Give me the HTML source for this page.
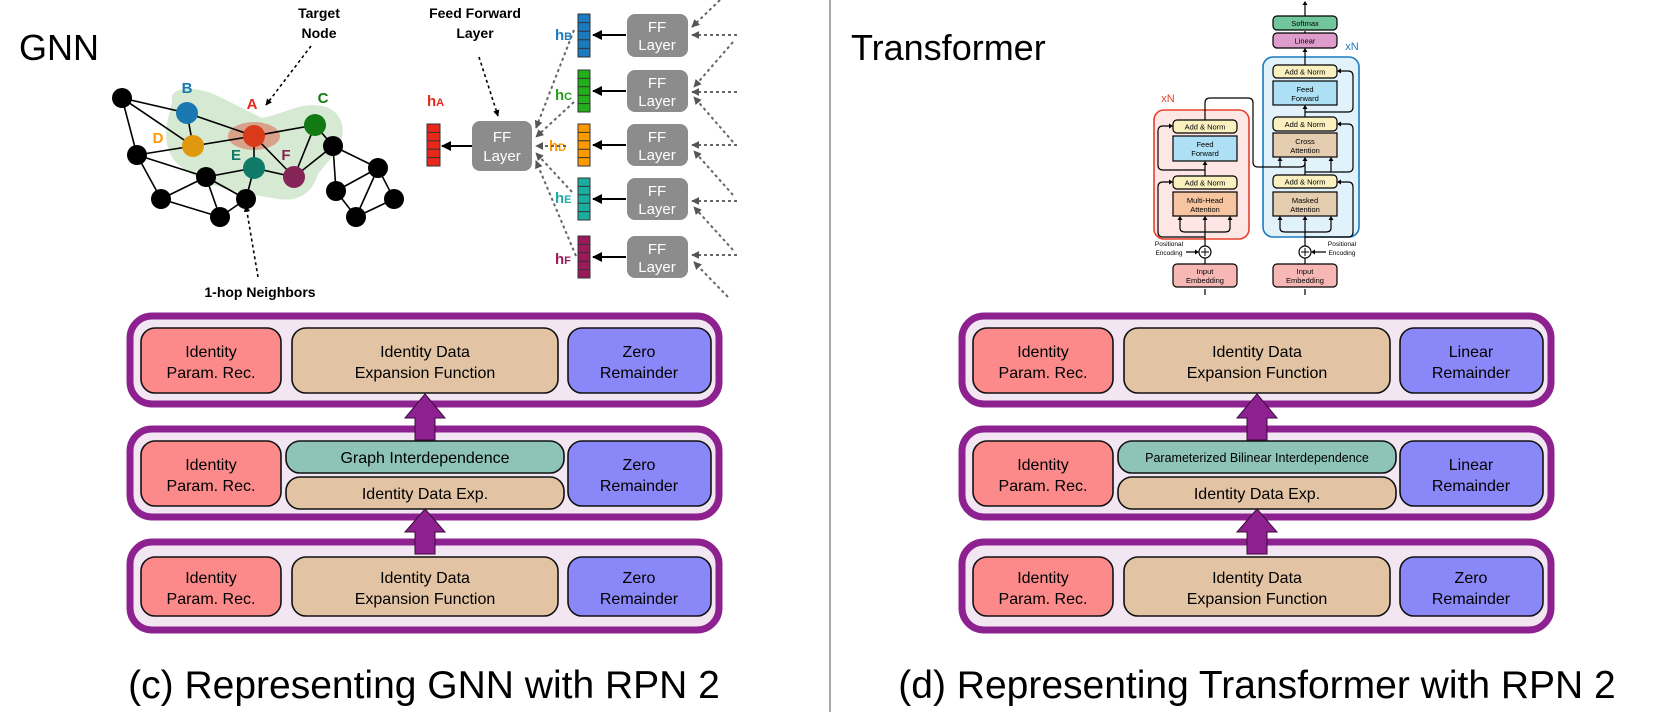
<!DOCTYPE html>
<html><head><meta charset="utf-8"><style>
html,body{margin:0;padding:0;background:#fff}
svg{display:block}
text{font-family:"Liberation Sans",Arial,sans-serif}
</style></head><body>
<svg width="1661" height="712" viewBox="0 0 1661 712" xmlns="http://www.w3.org/2000/svg">
<defs>
<marker id="ah" viewBox="0 0 10 10" refX="9" refY="5" markerWidth="5" markerHeight="5" orient="auto"><path d="M0,0L10,5L0,10z" fill="#000"/></marker>
<marker id="ag" viewBox="0 0 10 10" refX="9" refY="5" markerWidth="4" markerHeight="4" orient="auto"><path d="M0,0L10,5L0,10z" fill="#555"/></marker>
<marker id="at" viewBox="0 0 10 10" refX="9" refY="5" markerWidth="4" markerHeight="4" orient="auto"><path d="M0,0L10,5L0,10z" fill="#000"/></marker>
</defs>

<line x1="830" y1="0" x2="830" y2="712" stroke="#888" stroke-width="1.5"/>
<text x="19" y="60" font-size="36">GNN</text>
<text x="851" y="60" font-size="36">Transformer</text>

<path d="M172,102 C168,84 200,86 222,98 L262,118 C290,112 300,102 322,106 C344,110 348,134 336,152 L318,174 C312,194 298,202 278,199 L238,192 C208,186 184,172 174,160 C160,140 168,120 172,102Z" fill="#d6e9d2"/>
<ellipse cx="254" cy="136" rx="26" ry="14" fill="#d9a08a"/>
<g stroke="#000" stroke-width="1.6">
<line x1="122" y1="98" x2="187" y2="113"/><line x1="122" y1="98" x2="193" y2="146"/><line x1="122" y1="98" x2="137" y2="155"/>
<line x1="187" y1="113" x2="254" y2="136"/><line x1="187" y1="113" x2="193" y2="146"/>
<line x1="193" y1="146" x2="137" y2="155"/><line x1="193" y1="146" x2="254" y2="136"/>
<line x1="254" y1="136" x2="315" y2="125"/><line x1="254" y1="136" x2="254" y2="168"/><line x1="254" y1="136" x2="294" y2="177"/>
<line x1="137" y1="155" x2="206" y2="177"/><line x1="137" y1="155" x2="161" y2="199"/>
<line x1="206" y1="177" x2="254" y2="168"/><line x1="206" y1="177" x2="161" y2="199"/><line x1="206" y1="177" x2="220" y2="217"/><line x1="206" y1="177" x2="246" y2="199"/>
<line x1="254" y1="168" x2="294" y2="177"/><line x1="254" y1="168" x2="246" y2="199"/>
<line x1="161" y1="199" x2="220" y2="217"/><line x1="246" y1="199" x2="220" y2="217"/>
<line x1="315" y1="125" x2="294" y2="177"/><line x1="315" y1="125" x2="333" y2="146"/><line x1="294" y1="177" x2="333" y2="146"/>
<line x1="333" y1="146" x2="378" y2="168"/><line x1="333" y1="146" x2="336" y2="191"/><line x1="336" y1="191" x2="378" y2="168"/>
<line x1="336" y1="191" x2="356" y2="217"/><line x1="378" y1="168" x2="356" y2="217"/><line x1="378" y1="168" x2="394" y2="199"/><line x1="394" y1="199" x2="356" y2="217"/>
</g>
<g fill="#000">
<circle cx="122" cy="98" r="10"/><circle cx="137" cy="155" r="10"/><circle cx="206" cy="177" r="10"/><circle cx="161" cy="199" r="10"/>
<circle cx="220" cy="217" r="10"/><circle cx="246" cy="199" r="10"/><circle cx="333" cy="146" r="10"/><circle cx="378" cy="168" r="10"/>
<circle cx="336" cy="191" r="10"/><circle cx="394" cy="199" r="10"/><circle cx="356" cy="217" r="10"/>
</g>
<circle cx="187" cy="113" r="11" fill="#1a78b0"/><circle cx="193" cy="146" r="11" fill="#e0980f"/>
<circle cx="254" cy="136" r="11" fill="#d83a1a"/><circle cx="315" cy="125" r="11" fill="#127a12"/>
<circle cx="254" cy="168" r="11" fill="#0f7a68"/><circle cx="294" cy="177" r="11" fill="#852456"/>
<g font-weight="bold" font-size="15" text-anchor="middle">
<text x="187" y="93" fill="#1a78b0">B</text><text x="252" y="109" fill="#e8281a">A</text>
<text x="323" y="103" fill="#127a12">C</text><text x="158" y="143" fill="#ff9a00">D</text>
<text x="236" y="160" fill="#0f7a68">E</text><text x="286" y="160" fill="#852456">F</text>
</g>
<g font-weight="bold" font-size="14" text-anchor="middle">
<text x="319" y="18">Target</text><text x="319" y="38">Node</text>
<text x="475" y="18">Feed Forward</text><text x="475" y="38">Layer</text>
<text x="260" y="297">1-hop Neighbors</text>
</g>
<g stroke="#000" stroke-width="1.6" stroke-dasharray="3,3" fill="none">
<line x1="311" y1="46" x2="266" y2="105" marker-end="url(#at)"/>
<line x1="479" y1="57" x2="498" y2="116" marker-end="url(#at)"/>
<line x1="258" y1="277" x2="246" y2="206" marker-end="url(#at)"/>
</g>

<text x="427" y="106" font-size="15" font-weight="bold" fill="#e8281a">h<tspan font-size="11">A</tspan></text>
<g stroke="#333" stroke-width="1"><rect x="427" y="124" width="13" height="42" fill="#e8281a"/>
<line x1="427" y1="132.4" x2="440" y2="132.4"/><line x1="427" y1="140.8" x2="440" y2="140.8"/><line x1="427" y1="149.2" x2="440" y2="149.2"/><line x1="427" y1="157.6" x2="440" y2="157.6"/></g>
<line x1="472" y1="146" x2="442" y2="146" stroke="#000" stroke-width="2" marker-end="url(#ah)"/>
<rect x="472" y="121" width="60" height="50" rx="8" fill="#8c8c8c"/>
<text x="502" y="142" font-size="15" fill="#fff" text-anchor="middle">FF</text><text x="502" y="161" font-size="15" fill="#fff" text-anchor="middle">Layer</text>

<g font-size="15" fill="#fff" text-anchor="middle">
<rect x="627" y="14" width="61" height="43" rx="8" fill="#8c8c8c"/><text x="657" y="32">FF</text><text x="657" y="50">Layer</text>
<rect x="627" y="70" width="61" height="42" rx="8" fill="#8c8c8c"/><text x="657" y="88">FF</text><text x="657" y="106">Layer</text>
<rect x="627" y="124" width="61" height="42" rx="8" fill="#8c8c8c"/><text x="657" y="142">FF</text><text x="657" y="160">Layer</text>
<rect x="627" y="178" width="61" height="42" rx="8" fill="#8c8c8c"/><text x="657" y="196">FF</text><text x="657" y="214">Layer</text>
<rect x="627" y="236" width="61" height="42" rx="8" fill="#8c8c8c"/><text x="657" y="254">FF</text><text x="657" y="272">Layer</text>
</g>
<g stroke="#333" stroke-width="1">
<rect x="578" y="14" width="12" height="43" fill="#1a7bbf"/><rect x="578" y="70" width="12" height="42" fill="#22b01a"/>
<rect x="578" y="124" width="12" height="42" fill="#ff9900"/><rect x="578" y="178" width="12" height="42" fill="#1aada0"/>
<rect x="578" y="236" width="12" height="42" fill="#9b1a5a"/>
<path d="M578,22.6h12M578,31.2h12M578,39.8h12M578,48.4h12 M578,78.4h12M578,86.8h12M578,95.2h12M578,103.6h12 M578,132.4h12M578,140.8h12M578,149.2h12M578,157.6h12 M578,186.4h12M578,194.8h12M578,203.2h12M578,211.6h12 M578,244.4h12M578,252.8h12M578,261.2h12M578,269.6h12"/>
</g>
<g stroke="#000" stroke-width="2">
<line x1="626" y1="35" x2="593" y2="35" marker-end="url(#ah)"/><line x1="626" y1="91" x2="593" y2="91" marker-end="url(#ah)"/>
<line x1="626" y1="145" x2="593" y2="145" marker-end="url(#ah)"/><line x1="626" y1="199" x2="593" y2="199" marker-end="url(#ah)"/>
<line x1="626" y1="257" x2="593" y2="257" marker-end="url(#ah)"/>
</g>
<g font-size="15" font-weight="bold">
<text x="555" y="40" fill="#1a7bbf">h<tspan font-size="11">B</tspan></text>
<text x="555" y="100" fill="#22a01a">h<tspan font-size="11">C</tspan></text>
<text x="549" y="151" fill="#ff9900">h<tspan font-size="11">D</tspan></text>
<text x="555" y="203" fill="#1aada0">h<tspan font-size="11">E</tspan></text>
<text x="555" y="264" fill="#9b1a5a">h<tspan font-size="11">F</tspan></text>
</g>
<g stroke="#666" stroke-width="2" stroke-dasharray="3,3" fill="none">
<line x1="574" y1="30" x2="536" y2="128" marker-end="url(#ag)"/>
<line x1="574" y1="102" x2="536" y2="137" marker-end="url(#ag)"/>
<line x1="566" y1="146" x2="536" y2="146" marker-end="url(#ag)"/>
<line x1="572" y1="192" x2="536" y2="153" marker-end="url(#ag)"/>
<line x1="576" y1="256" x2="536" y2="161" marker-end="url(#ag)"/>
<line x1="720" y1="0" x2="692" y2="27" marker-end="url(#ag)"/>
<line x1="737" y1="35" x2="692" y2="35" marker-end="url(#ag)"/>
<line x1="733" y1="42" x2="694" y2="87" marker-end="url(#ag)"/>
<line x1="737" y1="92" x2="692" y2="92" marker-end="url(#ag)"/>
<line x1="733" y1="142" x2="694" y2="97" marker-end="url(#ag)"/>
<line x1="737" y1="145" x2="692" y2="145" marker-end="url(#ag)"/>
<line x1="733" y1="195" x2="694" y2="151" marker-end="url(#ag)"/>
<line x1="737" y1="201" x2="692" y2="201" marker-end="url(#ag)"/>
<line x1="733" y1="250" x2="694" y2="207" marker-end="url(#ag)"/>
<line x1="737" y1="255" x2="692" y2="255" marker-end="url(#ag)"/>
<line x1="728" y1="297" x2="694" y2="262" marker-end="url(#ag)"/>
</g>

<g font-size="7.5" text-anchor="middle">
<rect x="1154" y="110" width="95" height="129" rx="10" fill="#fde6e4" stroke="#e8402a" stroke-width="1.6"/>
<text x="1168" y="102" font-size="11" fill="#e8402a">xN</text>
<rect x="1263" y="57" width="96" height="180" rx="10" fill="#e2f2fb" stroke="#1a7bbf" stroke-width="1.6"/>
<text x="1352" y="50" font-size="11" fill="#1a7bbf">xN</text>
<g stroke="#000" stroke-width="1.2" fill="none">
<path d="M1205,264V258 M1205,246V218 M1180,226V228Q1180,232 1185,232H1225Q1230,232 1230,228V226 M1180,226V218 M1230,226V218"/>
<path d="M1205,237H1163Q1158,237 1158,232V187Q1158,182 1163,182H1171"/>
<path d="M1205,176V163 M1205,170H1163Q1158,170 1158,165V131Q1158,126 1163,126H1171"/>
<path d="M1205,120V103Q1205,98 1210,98H1248Q1253,98 1253,103V162Q1253,167 1258,167H1300Q1305,167 1305,163 M1280,167V161"/>
<path d="M1305,264V258 M1305,246V218 M1280,226V228Q1280,232 1285,232H1326Q1331,232 1331,228V218 M1280,226V218"/>
<path d="M1305,237H1348Q1353,237 1353,232V187Q1353,182 1348,182H1339"/>
<path d="M1305,175V172H1331V160 M1305,172V160 M1305,172H1348Q1353,172 1353,167V129Q1353,124 1348,124H1339"/>
<path d="M1305,117V107 M1305,112H1348Q1353,112 1353,107V76Q1353,71 1348,71H1339"/>
<path d="M1305,65V50 M1305,33V31 M1305,16V3"/>
<path d="M1186,252H1197 M1326,252H1315 M1205,295V289 M1305,295V289"/>
</g>
<g fill="#000">
<path d="M1173,182l-4,-2.5v5z M1173,126l-4,-2.5v5z M1337,182l4,-2.5v5z M1337,124l4,-2.5v5z M1337,71l4,-2.5v5z"/>
<path d="M1180,216l-2.5,4h5z M1205,216l-2.5,4h5z M1230,216l-2.5,4h5z M1205,161l-2.5,4h5z M1280,216l-2.5,4h5z M1305,216l-2.5,4h5z M1331,216l-2.5,4h5z M1280,157l-2.5,4h5z M1305,157l-2.5,4h5z M1331,157l-2.5,4h5z M1305,105l-2.5,4h5z M1305,48l-2.5,4h5z M1305,1l-2.5,4h5z M1199,252l-4,-2.5v5z M1311,252l4,-2.5v5z"/>
</g>
<g stroke="#000" stroke-width="1.2">
<rect x="1173" y="120" width="64" height="13" rx="4" fill="#fbf0c0"/>
<rect x="1173" y="136" width="64" height="25" fill="#aee0f5"/>
<rect x="1173" y="176" width="64" height="13" rx="4" fill="#fbf0c0"/>
<rect x="1173" y="192" width="64" height="24" fill="#f7c5a0"/>
<rect x="1173" y="264" width="64" height="23" rx="4" fill="#f7b8b5"/>
<circle cx="1205" cy="252" r="6" fill="#fff"/>
<rect x="1273" y="16" width="64" height="14" rx="4" fill="#72c69c"/>
<rect x="1273" y="33" width="64" height="15" rx="4" fill="#dd9ccb"/>
<rect x="1273" y="65" width="64" height="13" rx="4" fill="#fbf0c0"/>
<rect x="1273" y="81" width="64" height="24" fill="#aee0f5"/>
<rect x="1273" y="117" width="64" height="14" rx="4" fill="#fbf0c0"/>
<rect x="1273" y="133" width="64" height="24" fill="#e5cdb0"/>
<rect x="1273" y="175" width="64" height="13" rx="4" fill="#fbf0c0"/>
<rect x="1273" y="192" width="64" height="24" fill="#e5cdb0"/>
<rect x="1273" y="264" width="64" height="23" rx="4" fill="#f7b8b5"/>
<circle cx="1305" cy="252" r="6" fill="#fff"/>
</g>
<path d="M1201,252h8M1205,248v8M1301,252h8M1305,248v8" stroke="#000" stroke-width="1"/>
<text x="1205" y="129.5">Add &amp; Norm</text><text x="1205" y="147">Feed</text><text x="1205" y="156">Forward</text>
<text x="1205" y="185.5">Add &amp; Norm</text><text x="1205" y="203">Multi-Head</text><text x="1205" y="212">Attention</text>
<text x="1205" y="274">Input</text><text x="1205" y="283">Embedding</text>
<text x="1169" y="246" font-size="6.5">Positional</text><text x="1169" y="255" font-size="6.5">Encoding</text>
<text x="1305" y="26">Softmax</text><text x="1305" y="43.5">Linear</text>
<text x="1305" y="74.5">Add &amp; Norm</text><text x="1305" y="92">Feed</text><text x="1305" y="101">Forward</text>
<text x="1305" y="127">Add &amp; Norm</text><text x="1305" y="144">Cross</text><text x="1305" y="153">Attention</text>
<text x="1305" y="184.5">Add &amp; Norm</text><text x="1305" y="203">Masked</text><text x="1305" y="212">Attention</text>
<text x="1305" y="274">Input</text><text x="1305" y="283">Embedding</text>
<text x="1342" y="246" font-size="6.5">Positional</text><text x="1342" y="255" font-size="6.5">Encoding</text>
</g>

<g font-size="16" text-anchor="middle">
<rect x="130" y="316" width="589" height="88" rx="22" fill="#f3e6f3" stroke="#8e2190" stroke-width="7"/>
<rect x="141" y="328" width="140" height="65" rx="14" fill="#fc8a8a" stroke="#111" stroke-width="1.6"/>
<rect x="292" y="328" width="266" height="65" rx="14" fill="#e2c4a4" stroke="#111" stroke-width="1.6"/>
<rect x="568" y="328" width="143" height="65" rx="14" fill="#8a88f8" stroke="#111" stroke-width="1.6"/>
<text x="211" y="357">Identity</text><text x="211" y="378">Param. Rec.</text>
<text x="425" y="357">Identity Data</text><text x="425" y="378">Expansion Function</text>
<text x="639" y="357">Zero</text><text x="639" y="378">Remainder</text>

<rect x="130" y="429" width="589" height="88" rx="22" fill="#f3e6f3" stroke="#8e2190" stroke-width="7"/>
<rect x="141" y="441" width="140" height="65" rx="14" fill="#fc8a8a" stroke="#111" stroke-width="1.6"/>
<rect x="286" y="441" width="278" height="32" rx="14" fill="#8ec4b8" stroke="#111" stroke-width="1.6"/>
<rect x="286" y="477" width="278" height="32" rx="14" fill="#e2c4a4" stroke="#111" stroke-width="1.6"/>
<rect x="568" y="441" width="143" height="65" rx="14" fill="#8a88f8" stroke="#111" stroke-width="1.6"/>
<text x="211" y="470">Identity</text><text x="211" y="491">Param. Rec.</text>
<text x="425" y="463">Graph Interdependence</text><text x="425" y="499">Identity Data Exp.</text>
<text x="639" y="470">Zero</text><text x="639" y="491">Remainder</text>

<rect x="130" y="542" width="589" height="88" rx="22" fill="#f3e6f3" stroke="#8e2190" stroke-width="7"/>
<rect x="141" y="557" width="140" height="59" rx="14" fill="#fc8a8a" stroke="#111" stroke-width="1.6"/>
<rect x="292" y="557" width="266" height="59" rx="14" fill="#e2c4a4" stroke="#111" stroke-width="1.6"/>
<rect x="568" y="557" width="143" height="59" rx="14" fill="#8a88f8" stroke="#111" stroke-width="1.6"/>
<text x="211" y="583">Identity</text><text x="211" y="604">Param. Rec.</text>
<text x="425" y="583">Identity Data</text><text x="425" y="604">Expansion Function</text>
<text x="639" y="583">Zero</text><text x="639" y="604">Remainder</text>

<path d="M425,394L445,418H435V440H415V418H405Z" fill="#8e2190" stroke="#3a0a3a" stroke-width="1"/>
<path d="M425,509L445,532H435V554H415V532H405Z" fill="#8e2190" stroke="#3a0a3a" stroke-width="1"/>

<rect x="962" y="316" width="589" height="88" rx="22" fill="#f3e6f3" stroke="#8e2190" stroke-width="7"/>
<rect x="973" y="328" width="140" height="65" rx="14" fill="#fc8a8a" stroke="#111" stroke-width="1.6"/>
<rect x="1124" y="328" width="266" height="65" rx="14" fill="#e2c4a4" stroke="#111" stroke-width="1.6"/>
<rect x="1400" y="328" width="143" height="65" rx="14" fill="#8a88f8" stroke="#111" stroke-width="1.6"/>
<text x="1043" y="357">Identity</text><text x="1043" y="378">Param. Rec.</text>
<text x="1257" y="357">Identity Data</text><text x="1257" y="378">Expansion Function</text>
<text x="1471" y="357">Linear</text><text x="1471" y="378">Remainder</text>

<rect x="962" y="429" width="589" height="88" rx="22" fill="#f3e6f3" stroke="#8e2190" stroke-width="7"/>
<rect x="973" y="441" width="140" height="65" rx="14" fill="#fc8a8a" stroke="#111" stroke-width="1.6"/>
<rect x="1118" y="441" width="278" height="32" rx="14" fill="#8ec4b8" stroke="#111" stroke-width="1.6"/>
<rect x="1118" y="477" width="278" height="32" rx="14" fill="#e2c4a4" stroke="#111" stroke-width="1.6"/>
<rect x="1400" y="441" width="143" height="65" rx="14" fill="#8a88f8" stroke="#111" stroke-width="1.6"/>
<text x="1043" y="470">Identity</text><text x="1043" y="491">Param. Rec.</text>
<text x="1257" y="462" font-size="12.5">Parameterized Bilinear Interdependence</text><text x="1257" y="499">Identity Data Exp.</text>
<text x="1471" y="470">Linear</text><text x="1471" y="491">Remainder</text>

<rect x="962" y="542" width="589" height="88" rx="22" fill="#f3e6f3" stroke="#8e2190" stroke-width="7"/>
<rect x="973" y="557" width="140" height="59" rx="14" fill="#fc8a8a" stroke="#111" stroke-width="1.6"/>
<rect x="1124" y="557" width="266" height="59" rx="14" fill="#e2c4a4" stroke="#111" stroke-width="1.6"/>
<rect x="1400" y="557" width="143" height="59" rx="14" fill="#8a88f8" stroke="#111" stroke-width="1.6"/>
<text x="1043" y="583">Identity</text><text x="1043" y="604">Param. Rec.</text>
<text x="1257" y="583">Identity Data</text><text x="1257" y="604">Expansion Function</text>
<text x="1471" y="583">Zero</text><text x="1471" y="604">Remainder</text>

<path d="M1257,394L1277,418H1267V440H1247V418H1237Z" fill="#8e2190" stroke="#3a0a3a" stroke-width="1"/>
<path d="M1257,509L1277,532H1267V554H1247V532H1237Z" fill="#8e2190" stroke="#3a0a3a" stroke-width="1"/>
</g>

<text x="424" y="698" font-size="39" text-anchor="middle">(c) Representing GNN with RPN 2</text>
<text x="1257" y="698" font-size="39" text-anchor="middle">(d) Representing Transformer with RPN 2</text>
</svg>
</body></html>
